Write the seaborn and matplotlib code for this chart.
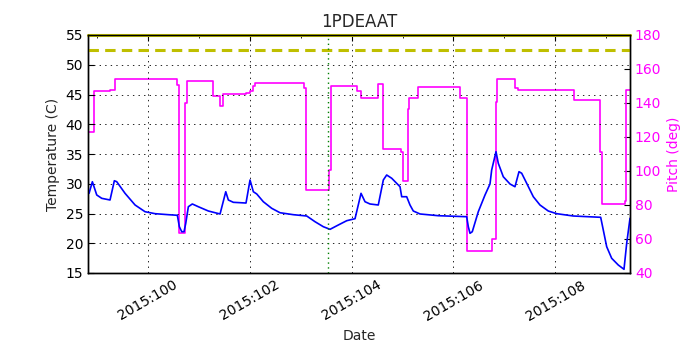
import matplotlib
matplotlib.use("Agg")
import matplotlib.pyplot as plt
import seaborn as sns
import pandas as pd
from matplotlib.ticker import MultipleLocator, FuncFormatter

# ---- data (day of year 2015) ----
temp_days = [98.841, 98.906, 98.992, 99.090, 99.253, 99.338, 99.385, 99.548, 99.745, 99.941,
             100.138, 100.399, 100.576, 100.615, 100.662, 100.707, 100.741, 100.792, 100.870, 100.988,
             101.185, 101.415, 101.527, 101.578, 101.676, 101.925, 102.004, 102.069, 102.136, 102.265,
             102.430, 102.593, 102.855, 103.118, 103.281, 103.444, 103.576, 103.739, 103.904, 104.067,
             104.185, 104.263, 104.361, 104.524, 104.623, 104.689, 104.788, 104.951, 104.984, 105.082,
             105.147, 105.212, 105.344, 105.703, 106.261, 106.293, 106.326, 106.371, 106.489, 106.621,
             106.719, 106.752, 106.837, 106.882, 106.980, 107.112, 107.210, 107.289, 107.342, 107.440,
             107.570, 107.701, 107.864, 108.029, 108.356, 108.894, 108.945, 109.012, 109.110, 109.240,
             109.352, 109.405, 109.470]
temp_vals = [28.39, 30.34, 28.11, 27.55, 27.27, 30.51, 30.34, 28.39, 26.43, 25.30,
             24.97, 24.80, 24.70, 22.78, 21.94, 21.94, 23.35, 26.14, 26.60, 26.14,
             25.42, 24.92, 28.66, 27.27, 26.88, 26.76, 30.63, 28.66, 28.28, 26.98,
             25.87, 25.13, 24.80, 24.58, 23.62, 22.78, 22.34, 23.07, 23.79, 24.13,
             28.39, 26.98, 26.60, 26.43, 30.63, 31.47, 30.92, 29.50, 27.82, 27.82,
             26.43, 25.42, 24.92, 24.63, 24.46, 22.78, 21.67, 21.94, 25.30, 28.11,
             29.96, 32.31, 35.39, 33.44, 31.18, 29.96, 29.50, 32.03, 31.76, 30.08,
             27.82, 26.43, 25.42, 24.97, 24.58, 24.36, 22.23, 19.42, 17.47, 16.34,
             15.62, 19.99, 24.19]

pitch_days = [98.82, 98.93, 99.26, 99.35, 100.56, 100.60, 100.61, 100.73, 100.76, 101.27,
              101.41, 101.47, 101.92, 102.00, 102.07, 102.10, 103.07, 103.10, 103.56, 103.59,
              104.10, 104.18, 104.52, 104.62, 104.98, 105.00, 105.11, 105.13, 105.30, 106.13,
              106.27, 106.75, 106.84, 106.86, 107.22, 107.27, 108.36, 108.89, 108.92, 109.37,
              109.39, 109.47]
pitch_vals = [122.8, 147.1, 147.6, 153.9, 150.4, 65.9, 63.5, 139.8, 152.9, 144.3,
              138.4, 145.1, 145.7, 147.2, 150.0, 151.6, 148.6, 88.6, 100.6, 150.2,
              147.1, 142.8, 151.0, 112.9, 111.4, 94.1, 136.3, 143.1, 149.2, 143.1,
              52.9, 59.8, 140.4, 154.3, 148.6, 147.5, 141.9, 111.4, 80.6, 82.5,
              147.6, 147.6]

planning_limit = 52.5
caution_limit = 55.0
event_day = 103.53

title = "1PDEAAT"
xlabel = "Date"
ylabel_left = "Temperature (C)"
ylabel_right = "Pitch (deg)"

# ---- style ----
sns.set_style("white")
plt.rcParams.update({
    "font.family": ["DejaVu Sans"],
    "font.size": 10,
    "xtick.direction": "in",
    "ytick.direction": "in",
    "xtick.top": True,
    "lines.scale_dashes": False,
    "axes.edgecolor": "black",
    "axes.linewidth": 1.0,
    "xtick.major.size": 4,
    "xtick.minor.size": 2,
    "ytick.major.size": 4,
    "xtick.color": "black",
    "ytick.color": "black",
})

temp_df = pd.DataFrame({"day": temp_days, "temp": temp_vals})
pitch_df = pd.DataFrame({"day": pitch_days, "pitch": pitch_vals})

fig = plt.figure(figsize=(7, 3.5), dpi=100)
fig.patch.set_facecolor("white")
ax = fig.add_axes([0.1257, 0.22, 0.7743, 0.68])
ax2 = ax.twinx()

ax.set_zorder(ax2.get_zorder() + 1)
ax.patch.set_visible(False)

sns.lineplot(data=pitch_df, x="day", y="pitch", ax=ax2, color=(1, 0, 1), lw=1.2,
             drawstyle="steps-post", estimator=None, sort=False)
sns.lineplot(data=temp_df, x="day", y="temp", ax=ax, color=(0, 0, 1), lw=1.2,
             estimator=None, sort=False)

ax.axhline(planning_limit, color=(0.75, 0.75, 0), lw=2.2, ls=(0, (7.5, 4.5)))
ax.axhline(caution_limit, color=(0.75, 0.75, 0), lw=2.2, clip_on=False)
ax.axvline(event_day, color=(0, 0.5, 0), lw=1.0, ls=(0, (1, 2.5)))

ax.set_xlim(98.82, 109.47)
ax.set_ylim(15, 55)
ax2.set_ylim(40, 180)

ax.xaxis.set_major_locator(MultipleLocator(2))
ax.xaxis.set_minor_locator(MultipleLocator(1))
ax.xaxis.set_major_formatter(FuncFormatter(lambda v, p: "2015:%03d" % round(v)))
ax.yaxis.set_major_locator(MultipleLocator(5))
ax2.yaxis.set_major_locator(MultipleLocator(20))
ax.tick_params(axis="x", which="both", top=True, direction="in")
ax.tick_params(axis="y", left=True, right=False, direction="in", labelsize=10)
ax2.tick_params(axis="y", right=True, direction="in", labelcolor=(1, 0, 1), labelsize=10)
ax.tick_params(axis="x", labelsize=10)
for lbl in ax.get_xticklabels():
    lbl.set_rotation(30)
    lbl.set_ha("center")

ax.grid(True, which="major", color="black", ls=(0, (1, 3)), lw=0.6)
ax2.grid(False)

ax.set_title(title, fontsize=12)
ax.set_xlabel(xlabel, fontsize=10)
ax.set_ylabel(ylabel_left, fontsize=10)
ax2.set_ylabel(ylabel_right, fontsize=10, color=(1, 0, 1))

fig.savefig("out.png", dpi=100, facecolor="white")
